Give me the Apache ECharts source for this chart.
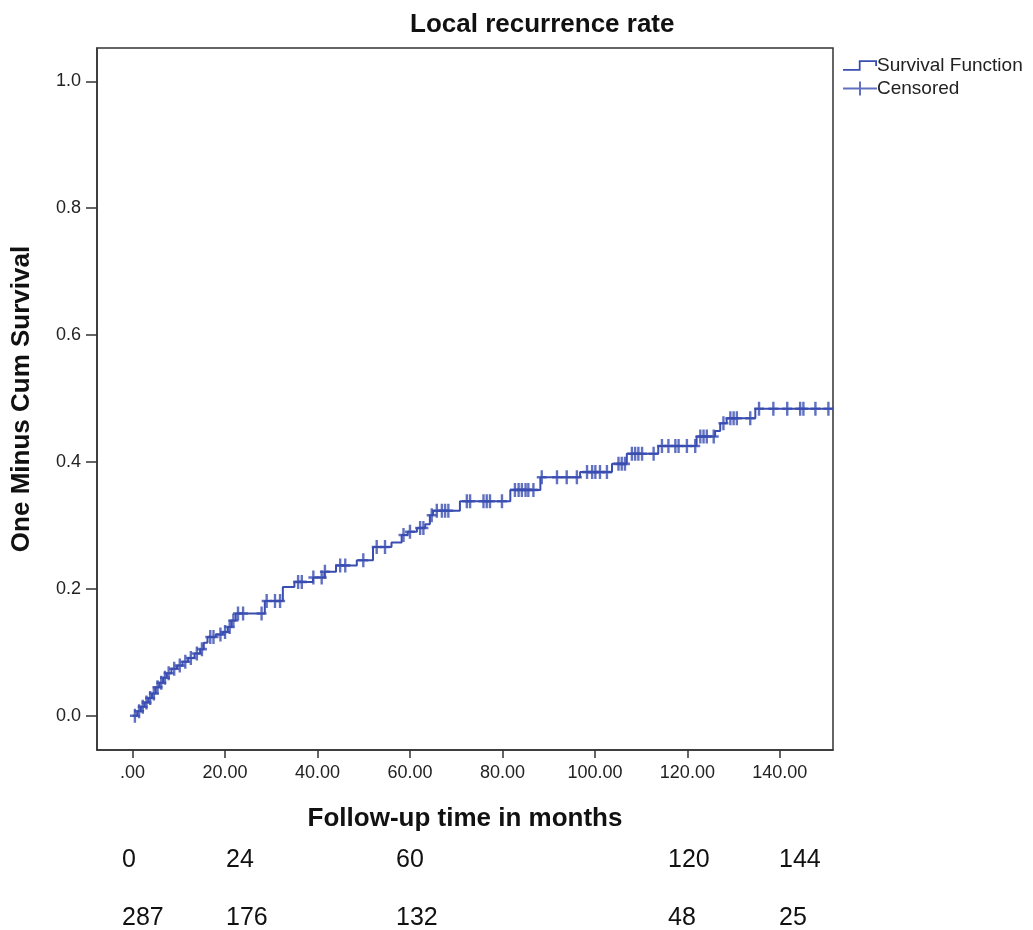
<!DOCTYPE html>
<html>
<head>
<meta charset="utf-8">
<script src="https://cdn.jsdelivr.net/npm/echarts@6/dist/echarts.min.js"></script>
<style>
  html, body { margin: 0; padding: 0; background: #fff; }
  #chart { width: 1033px; height: 930px; }
</style>
</head>
<body>
<div id="chart"></div>
<script>
// event times (months) and one-minus-survival after each event
var stepTimes = [0, 1.0, 1.8, 2.6, 3.4, 4.2, 5.0, 5.8, 6.6, 7.4, 8.4, 9.6, 10.8, 12.0, 13.4, 14.6, 15.4, 16.2,
  18.0, 19.5, 20.6, 21.4, 22.3, 28.6, 32.5, 35.0, 39.0, 41.5, 44.0, 48.5, 52.0, 56.0, 58.2, 59.5, 61.5,
  63.3, 64.3, 65.0, 70.8, 81.7, 88.2, 96.8, 103.7, 106.9, 113.7, 122.0, 126.0, 127.1, 128.5, 134.7];
var stepValues = [0, 0.007, 0.014, 0.021, 0.028, 0.035, 0.045, 0.052, 0.060, 0.067, 0.074, 0.079, 0.085, 0.091,
  0.098, 0.105, 0.115, 0.124, 0.128, 0.132, 0.140, 0.150, 0.161, 0.181, 0.203, 0.211, 0.218, 0.227, 0.237,
  0.245, 0.266, 0.273, 0.285, 0.290, 0.296, 0.302, 0.316, 0.323, 0.338, 0.356, 0.376, 0.384, 0.397, 0.413,
  0.425, 0.440, 0.449, 0.461, 0.469, 0.484];
var lastTime = 151.5;

// censored times (months)
var censorTimes = [0.5, 1.4, 2.2, 3.0, 3.8, 4.6, 5.4, 6.2, 7.0, 7.8, 9.0, 10.2, 11.4, 12.6, 13.9, 15.0, 16.8,
  17.5, 19.0, 20.0, 21.0, 21.8, 22.8, 23.9, 27.9, 29.0, 30.8, 31.9, 35.8, 36.6, 39.1, 40.9, 41.6, 44.9, 46.0,
  49.9, 52.8, 54.6, 58.6, 60.0, 62.2, 62.9, 64.7, 65.8, 66.9, 67.6, 68.3, 72.3, 73.0, 75.9, 76.6, 77.3, 79.9,
  82.7, 83.5, 84.2, 85.0, 85.6, 86.7, 88.5, 91.8, 93.9, 96.1, 98.3, 99.4, 100.1, 101.1, 102.6, 105.1, 105.8,
  106.5, 108.0, 108.7, 109.4, 110.2, 112.7, 114.5, 115.9, 117.4, 118.1, 119.9, 121.7, 122.8, 123.5, 124.2,
  125.7, 127.8, 129.3, 130.0, 130.7, 133.6, 135.5, 138.6, 141.6, 144.4, 145.1, 147.7, 150.5];

var xTicks = [0, 20, 40, 60, 80, 100, 120, 140];
var yTicks = [0, 0.2, 0.4, 0.6, 0.8, 1.0];

// number at risk table
var riskTimes = ['0', '24', '60', '120', '144'];
var riskCounts = ['287', '176', '132', '48', '25'];

var blue = '#3a4db1';
var font = 'Liberation Sans, Arial, sans-serif';

function valueAt(t) {
  var v = 0;
  for (var i = 0; i < stepTimes.length; i++) {
    if (stepTimes[i] <= t) v = stepValues[i];
  }
  return v;
}

var lineData = stepTimes.map(function (t, i) { return [t, stepValues[i]]; });
lineData.push([lastTime, stepValues[stepValues.length - 1]]);
var censorData = censorTimes.map(function (t) { return [t, valueAt(t)]; });

var plusPath = 'path://M3.8,0 L6.2,0 L6.2,4.1 L10,4.1 L10,5.9 L6.2,5.9 L6.2,10 L3.8,10 L3.8,5.9 L0,5.9 L0,4.1 L3.8,4.1 Z';
var stepIcon = 'path://M0,11 L17.8,11 L17.8,2 L32.6,2 L32.6,6 L34.4,6 L34.4,0.2 L16,0.2 L16,9.2 L0,9.2 Z';
var censIcon = 'path://M0,6.1 L16,6.1 L16,0 L18,0 L18,6.1 L34,6.1 L34,7.9 L18,7.9 L18,14 L16,14 L16,7.9 L0,7.9 Z';

// table text, positioned under the axis
var riskX = [122, 226, 396, 668, 779];
var graphics = [];
riskTimes.forEach(function (s, i) {
  graphics.push({ type: 'text', left: riskX[i], top: 848, style: { text: s, font: '25px ' + font, fill: '#111' } });
});
riskCounts.forEach(function (s, i) {
  graphics.push({ type: 'text', left: riskX[i], top: 906, style: { text: s, font: '25px ' + font, fill: '#111' } });
});

var chart = echarts.init(document.getElementById('chart'));
var option = {
  backgroundColor: '#fff',
  animation: false,
  title: {
    text: 'Local recurrence rate',
    left: 405,
    top: 7,
    textStyle: { fontFamily: font, fontWeight: 'bold', fontSize: 26, color: '#111' }
  },
  legend: {
    orient: 'vertical',
    left: 838,
    top: 51,
    itemWidth: 34,
    itemHeight: 14,
    itemGap: 4,
    textStyle: { fontFamily: font, fontSize: 19, color: '#222', padding: [0, 0, 0, -5] },
    data: [
      { name: 'Survival Function', icon: stepIcon },
      { name: 'Censored', icon: censIcon }
    ]
  },
  grid: {
    left: 97,
    right: 200,
    top: 48,
    bottom: 180,
    show: true,
    borderColor: '#333',
    borderWidth: 1.5
  },
  xAxis: {
    type: 'value',
    min: -7.7,
    max: 151.5,
    name: 'Follow-up time in months',
    nameLocation: 'middle',
    nameGap: 56,
    nameTextStyle: { fontFamily: font, fontWeight: 'bold', fontSize: 26, color: '#111' },
    axisLine: { show: true, onZero: false, lineStyle: { color: '#333', width: 1.5 } },
    axisTick: { show: true, length: 8, customValues: xTicks, lineStyle: { color: '#333', width: 1.5 } },
    axisLabel: {
      customValues: xTicks,
      margin: 14,
      fontFamily: font, fontSize: 18, color: '#222',
      formatter: function (v) { return v === 0 ? '.00' : v.toFixed(2); }
    },
    splitLine: { show: false }
  },
  yAxis: {
    type: 'value',
    min: -0.054,
    max: 1.0525,
    name: 'One Minus Cum Survival',
    nameLocation: 'middle',
    nameGap: 62,
    nameTextStyle: { fontFamily: font, fontWeight: 'bold', fontSize: 26, color: '#111' },
    axisLine: { show: true, onZero: false, lineStyle: { color: '#333', width: 1.5 } },
    axisTick: { show: true, length: 11, customValues: yTicks, lineStyle: { color: '#333', width: 1.5 } },
    axisLabel: {
      customValues: yTicks,
      margin: 16,
      fontFamily: font, fontSize: 18, color: '#222',
      formatter: function (v) { return v.toFixed(1); }
    },
    splitLine: { show: false }
  },
  series: [
    {
      name: 'Survival Function',
      type: 'line',
      step: 'end',
      data: lineData,
      showSymbol: false,
      color: blue,
      lineStyle: { color: blue, width: 2 },
      z: 2
    },
    {
      name: 'Censored',
      type: 'scatter',
      data: censorData,
      symbol: plusPath,
      symbolSize: [10, 14],
      color: blue,
      itemStyle: { color: blue },
      z: 3
    }
  ],
  graphic: graphics
};
chart.setOption(option);
</script>
</body>
</html>
